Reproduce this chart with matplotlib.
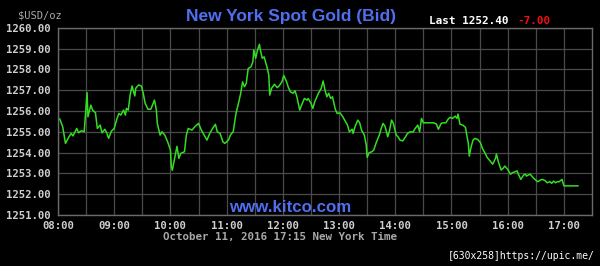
import matplotlib
matplotlib.use("Agg")
import matplotlib.pyplot as plt

# ---- data (minutes after 08:00, New York time) ----
minutes = [0, 2, 5, 8, 11, 14, 16, 20, 22, 25, 28, 31, 32, 35, 37, 40, 42, 45, 47, 50,
           52, 54, 57, 60, 63, 65, 67, 70, 72, 73, 75, 77, 79, 82, 83, 86, 89, 91, 93, 96,
           99, 101, 103, 105, 106, 109, 111, 114, 117, 120, 121, 122, 125, 127, 129, 131, 135, 137, 139, 143,
           146, 150, 153, 157, 159, 162, 165, 168, 170, 173, 176, 178, 182, 184, 187, 190, 193, 195, 197, 199,
           201, 203, 206, 208, 209, 211, 213, 215, 216, 218, 220, 223, 225, 226, 228, 231, 234, 236, 239, 241,
           244, 246, 248, 251, 253, 255, 258, 260, 263, 266, 267, 270, 272, 274, 278, 281, 283, 285, 287, 289,
           291, 293, 296, 298, 301, 304, 306, 309, 311, 314, 315, 317, 320, 322, 324, 327, 329, 330, 332, 335,
           337, 340, 343, 345, 347, 349, 352, 354, 356, 358, 361, 363, 365, 368, 371, 373, 376, 379, 381, 384,
           386, 388, 390, 394, 397, 401, 404, 406, 409, 411, 414, 417, 419, 421, 424, 426, 427, 429, 432, 435,
           436, 438, 439, 441, 443, 445, 448, 451, 453, 456, 458, 461, 464, 467, 468, 470, 473, 475, 477, 480,
           483, 485, 488, 490, 491, 494, 497, 499, 500, 502, 504, 507, 509, 512, 515, 517, 520, 522, 525, 527,
           529, 531, 533, 535, 538, 540, 555]
prices = [1255.66, 1255.60, 1255.24, 1254.44, 1254.70, 1254.92, 1254.80, 1255.16, 1254.95, 1255.05,
          1255.00, 1256.88, 1255.72, 1256.28, 1256.04, 1255.91, 1255.16, 1255.32, 1254.95, 1255.12,
          1254.95, 1254.68, 1255.03, 1255.16, 1255.64, 1255.88, 1255.80, 1256.04, 1255.80, 1256.12,
          1256.04, 1256.76, 1257.20, 1256.72, 1257.09, 1257.25, 1257.20, 1256.85, 1256.37, 1256.08,
          1256.08, 1256.30, 1256.52, 1256.04, 1255.40, 1254.84, 1255.00, 1254.84, 1254.52, 1254.12,
          1253.32, 1253.15, 1253.85, 1254.30, 1253.72, 1253.96, 1254.04, 1254.84, 1255.16, 1255.08,
          1255.24, 1255.40, 1255.08, 1254.76, 1254.60, 1254.92, 1255.16, 1255.36, 1255.00, 1254.92,
          1254.52, 1254.44, 1254.60, 1254.84, 1255.00, 1255.88, 1256.44, 1256.84, 1257.40, 1257.16,
          1257.33, 1258.04, 1258.12, 1258.36, 1258.93, 1258.53, 1258.93, 1259.20, 1258.93, 1258.53,
          1258.60, 1258.12, 1257.73, 1256.76, 1257.09, 1257.28, 1257.12, 1257.20, 1257.40, 1257.70,
          1257.40, 1257.12, 1256.92, 1256.85, 1256.97, 1256.68, 1256.04, 1256.28, 1256.60, 1256.52,
          1256.60, 1256.37, 1256.12, 1256.44, 1256.85, 1257.09, 1257.44, 1257.00, 1256.68, 1256.85,
          1256.60, 1256.68, 1256.08, 1255.88, 1255.91, 1255.72, 1255.56, 1255.32, 1255.00, 1255.12,
          1254.92, 1255.24, 1255.56, 1255.43, 1255.08, 1254.84, 1254.36, 1253.77, 1253.99, 1254.04,
          1254.12, 1254.52, 1254.84, 1255.16, 1255.40, 1255.27, 1254.76, 1255.08, 1255.56, 1255.40,
          1254.84, 1254.76, 1254.60, 1254.56, 1254.76, 1254.92, 1255.00, 1254.98, 1255.14, 1255.32,
          1255.00, 1255.64, 1255.43, 1255.43, 1255.43, 1255.43, 1255.37, 1255.12, 1255.40, 1255.43,
          1255.43, 1255.64, 1255.69, 1255.64, 1255.75, 1255.64, 1255.85, 1255.37, 1255.32, 1255.21,
          1254.92, 1254.44, 1253.83, 1254.28, 1254.60, 1254.68, 1254.63, 1254.47, 1254.20, 1253.96,
          1253.77, 1253.61, 1253.44, 1253.72, 1253.93, 1253.56, 1253.16, 1253.24, 1253.35, 1253.19,
          1252.96, 1253.03, 1253.08, 1253.12, 1253.00, 1252.71, 1252.92, 1252.96, 1252.87, 1252.92,
          1252.96, 1252.80, 1252.71, 1252.60, 1252.68, 1252.71, 1252.65, 1252.55, 1252.60, 1252.52,
          1252.63, 1252.55, 1252.60, 1252.60, 1252.71, 1252.40, 1252.40]

x_tick_minutes = [0, 60, 120, 180, 240, 300, 360, 420, 480, 540]
x_tick_labels = ["08:00", "09:00", "10:00", "11:00", "12:00", "13:00",
                 "14:00", "15:00", "16:00", "17:00"]
y_ticks = [1251, 1252, 1253, 1254, 1255, 1256, 1257, 1258, 1259, 1260]
y_tick_labels = ["%.2f" % v for v in y_ticks]

title = "New York Spot Gold (Bid)"
last_text = "Last 1252.40"
change_text = "-7.00"
unit_text = "$USD/oz"
date_text = "October 11, 2016 17:15 New York Time"
site_text = "www.kitco.com"
stamp_text = "[630x258]https://upic.me/"

W, H = 600, 266
fig = plt.figure(figsize=(W / 100, H / 100), dpi=100, facecolor="black")

def fx(px):
    return px / W

def fy(py):
    return 1 - py / H

left, right, top, bottom = 58, 592, 27.7, 215
ax = fig.add_axes([fx(left), fy(bottom), fx(right) - fx(left), fy(top) - fy(bottom)])
ax.set_facecolor("black")

mono = ["DejaVu Sans Mono"]
ax.plot(minutes, prices, color="#33dd22", lw=1.1, solid_joinstyle="round")

ax.set_xlim(0, 570)
ax.set_ylim(1251, 1260)
ax.set_xticks(x_tick_minutes)
ax.set_xticklabels(x_tick_labels)
ax.set_xticks(range(30, 570, 60), minor=True)
ax.set_yticks(y_ticks)
ax.set_yticklabels(y_tick_labels)
ax.grid(True, which="both", color="#4a4a4a", lw=0.9)
ax.tick_params(which="both", length=0, colors="#cfcfcf")
ax.tick_params(axis="y", pad=5)
ax.tick_params(axis="x", pad=4)
for lab in ax.get_xticklabels() + ax.get_yticklabels():
    lab.set_family(mono)
    lab.set_fontsize(7.7)
    lab.set_fontweight("bold")
    lab.set_color("#cfcfcf")
for s in ax.spines.values():
    s.set_color("#6a6a6a")
    s.set_linewidth(1.0)

fig.text(fx(291), fy(16.5), title, color="#4f6ff0", fontsize=12.5, fontweight="bold",
         family="Liberation Sans", ha="center", va="center")
fig.text(fx(290), fy(208), site_text, color="#4f6ff0", fontsize=12.2, fontweight="bold",
         family="Liberation Sans", ha="center", va="center")
fig.text(fx(429), fy(21), last_text, color="white", fontsize=7.9, fontweight="bold",
         family=mono, ha="left", va="center")
fig.text(fx(517), fy(21), change_text, color="#ee1111", fontsize=7.9, fontweight="bold",
         family=mono, ha="left", va="center")
fig.text(fx(18), fy(15.3), unit_text, color="#a8a8a8", fontsize=7.5,
         family=mono, ha="left", va="center")
fig.text(fx(163), fy(237), date_text, color="#a8a8a8", fontsize=7.8, fontweight="bold",
         family=mono, ha="left", va="center")
fig.text(fx(448), fy(256), stamp_text, color="white", fontsize=7.0,
         family=mono, ha="left", va="center")

fig.savefig("out.png", dpi=100, facecolor="black")
